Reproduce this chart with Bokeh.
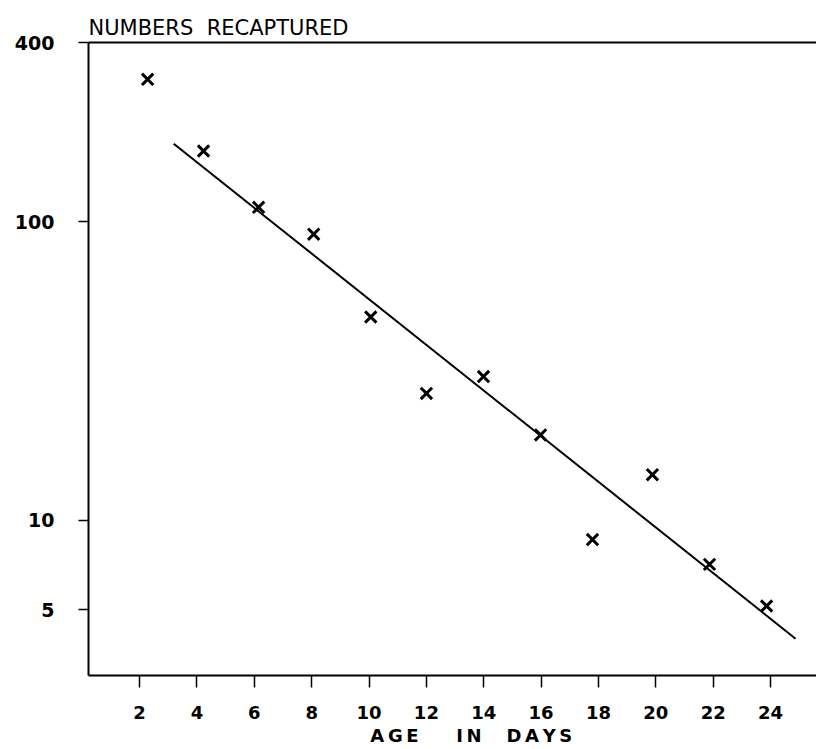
from bokeh.plotting import figure
from bokeh.models import Range1d, FixedTicker, LinearAxis, NumeralTickFormatter
from bokeh.embed import file_html
from bokeh.resources import INLINE

# Data
days = [2.28, 4.23, 6.15, 8.07, 10.06, 12.0, 13.99, 15.98, 17.79, 19.88, 21.87, 23.86]
counts = [301, 173, 112, 91, 48, 26.6, 30.3, 19.3, 8.6, 14.2, 7.1, 5.15]
fit_days = [3.19, 24.87]
fit_counts = [183, 4.0]
x_ticks = [2, 4, 6, 8, 10, 12, 14, 16, 18, 20, 22, 24]
y_ticks = [5, 10, 100, 400]
y_title = "NUMBERS\u00a0\u00a0RECAPTURED"
x_title = ("\u00a0" * 6) + "A\u2009G\u2009E\u00a0\u00a0\u00a0\u00a0\u00a0\u00a0I\u2009N\u00a0\u00a0\u00a0\u00a0D\u2009A\u2009Y\u2009S"

FONT = "DejaVu Sans"

p = figure(width=816, height=749, y_axis_type="log",
           x_range=Range1d(0.22, 25.6), y_range=Range1d(3.01, 400),
           output_backend="svg", toolbar_location=None,
           min_border_left=88, min_border_right=0, min_border_top=42, min_border_bottom=74,
           background_fill_color="white", border_fill_color="white")
p.outline_line_color = None
p.grid.visible = False

p.title.text = y_title
p.title.text_font = FONT
p.title.text_font_size = "21px"
p.title.text_font_style = "normal"
p.title.text_color = "black"
p.title.align = "left"
p.title.standoff = 6

# axes
for ax in (p.xaxis[0], p.yaxis[0]):
    ax.axis_line_width = 2
    ax.axis_line_color = "black"
    ax.major_tick_line_width = 1.5
    ax.major_tick_in = 0
    ax.minor_tick_line_color = None
    ax.major_label_text_font = FONT
    ax.major_label_text_font_style = "bold"
    ax.major_label_text_font_size = "18px"
    ax.major_label_text_color = "black"

p.xaxis.ticker = FixedTicker(ticks=x_ticks)
p.xaxis.major_tick_out = 12
p.xaxis.major_label_standoff = 18
p.xaxis.axis_label = x_title
p.xaxis.axis_label_standoff = 3
p.xaxis.axis_label_text_font = FONT
p.xaxis.axis_label_text_font_size = "18px"
p.xaxis.axis_label_text_font_style = "bold"
p.xaxis.axis_label_text_color = "black"

p.yaxis.ticker = FixedTicker(ticks=y_ticks)
p.yaxis.formatter = NumeralTickFormatter(format="0")
p.yaxis.major_tick_out = 10
p.yaxis.major_label_standoff = 24
p.yaxis.major_label_text_font_size = "19px"

top = LinearAxis(ticker=FixedTicker(ticks=[]), axis_line_width=2,
                 major_tick_line_color=None, minor_tick_line_color=None,
                 major_label_text_font_size="0px")
p.add_layout(top, "above")

p.line(fit_days, fit_counts, line_width=2, line_color="black")
p.scatter(days, counts, marker="x", size=16, line_width=3, line_color="black")

open("out.html", "w").write(file_html(p, INLINE))
